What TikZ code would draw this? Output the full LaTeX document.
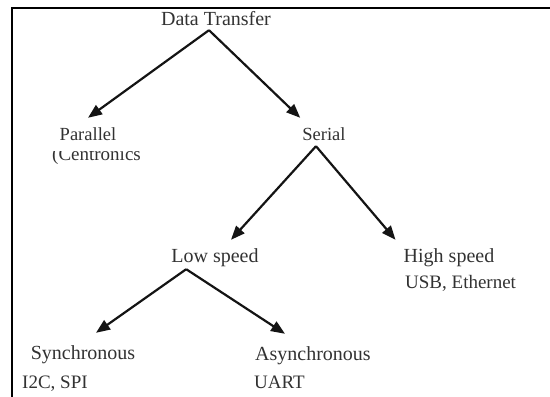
\documentclass[tikz,border=0pt]{standalone}
\usepackage{fontspec}
\setmainfont{Liberation Serif}
\usepackage{xcolor}
\usetikzlibrary{arrows.meta,positioning,calc}
\definecolor{cText}{RGB}{50,50,50}
\definecolor{cLine}{RGB}{20,20,20}
\tikzset{
  lab/.style={text=cText, font=\fontsize{20}{22}\selectfont, inner sep=0pt,
              text height=13pt, text depth=4pt, anchor=base},
  labs/.style={lab, font=\fontsize{18.5}{21}\selectfont, text depth=0pt},
  sub/.style={lab, font=\fontsize{19}{21}\selectfont, anchor=base west},
  arr/.style={-{Triangle[length=14pt,width=11pt]}, line width=2.2pt, draw=cLine},
  frame/.style={line width=2.3pt, draw=black},
}
\begin{document}
\begin{tikzpicture}[x=1pt,y=1pt]
  \useasboundingbox (0,0) rectangle (550,397);
  \draw[frame] (12,0) -- (12,389) -- (550,389);
  % root
  \node[lab] (dt) at (216,371) {Data Transfer};
  % first split
  \node[labs] (par) at (88,256) {Parallel};
  \node[labs] (ser) at (324,256) {Serial};
  \begin{scope}
    \clip (40,200) rectangle (200,245);
    \node[sub] (cen) at (52,236) {(Centronics};
  \end{scope}
  % serial split
  \node[lab] (low) at (215,134) {Low speed};
  \node[lab] (high) at (449,134) {High speed};
  \node[sub] (usb) at (405,108) {USB, Ethernet};
  % low speed split
  \node[lab] (syn) at (83,37) {Synchronous};
  \node[lab] (asyn) at (313,36) {Asynchronous};
  \node[sub] (i2c) at (22,8) {I2C, SPI};
  \node[sub] (uart) at (254,8) {UART};
  % arrows
  \draw[arr] ([xshift=-7pt]dt.south) -- ([yshift=10pt]par.north);
  \draw[arr] ([xshift=-7pt]dt.south) -- ([shift={(-2pt,10pt)}]ser.north west);
  \draw[arr] ([shift={(-8pt,-5pt)}]ser.south) -- ([shift={(16pt,10pt)}]low.north);
  \draw[arr] ([shift={(-8pt,-5pt)}]ser.south) -- ([shift={(-8pt,10pt)}]high.north west);
  \draw[arr] ([shift={(15pt,-2pt)}]low.south west) -- ([shift={(13pt,14pt)}]syn.north);
  \draw[arr] ([shift={(15pt,-2pt)}]low.south west) -- ([shift={(30pt,14pt)}]asyn.north west);
\end{tikzpicture}
\end{document}
